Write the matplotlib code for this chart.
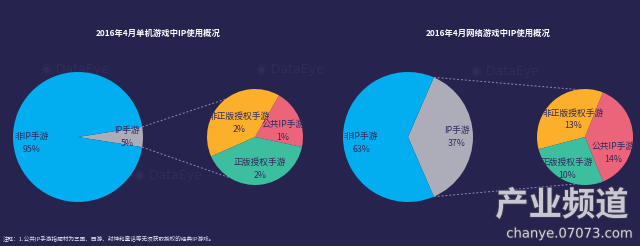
import numpy as np
import matplotlib
matplotlib.use("Agg")
import matplotlib.pyplot as plt
import matplotlib.patheffects as pe

plt.rcParams['font.family'] = ['Noto Sans CJK SC', 'DejaVu Sans']

# ---------------- data ----------------
titles = ["2016年4月单机游戏中IP使用概况", "2016年4月网络游戏中IP使用概况"]
main_labels = ["IP手游", "非IP手游"]
single_main = [5, 95]
online_main = [37, 63]
sub_labels = ["公共IP手游", "非正版授权手游", "正版授权手游"]
single_sub = [1, 2, 2]
online_sub = [14, 13, 10]
note = "注释：1.公共IP手游指题材为三国、西游、封神和童话等无须获取授权的经典IP游戏。"

BG = "#27234f"
C_BLUE = "#02aeef"
C_GRAY = "#adacb9"
C_PINK = "#ec6479"
C_ORANGE = "#fbaf2a"
C_GREEN = "#3dbf9f"
TXT = "#302a5e"

W, H = 640, 246
fig = plt.figure(figsize=(6.4, 2.46), dpi=100, facecolor=BG)
ax = fig.add_axes([0, 0, 1, 1])
ax.set_facecolor(BG)

def Y(y):
    return H - y

# faint watermarks
for (wx, wy) in [(75, 70), (290, 70), (505, 72), (168, 176), (392, 176)]:
    ax.text(wx, Y(wy), "◉ DataEye", color="#302c5b", fontsize=9, ha="center",
            va="center", family=["DejaVu Sans"], zorder=0)

def draw_group(cx_big, cx_small, main_vals, sub_vals, sub_start, top_ang, bot_ang):
    r_big, r_small, cy = 65, 48, Y(137)
    ip_frac = main_vals[0] / sum(main_vals)
    start = -ip_frac * 180
    wb, _ = ax.pie(main_vals, colors=[C_GRAY, C_BLUE], startangle=start,
                   center=(cx_big, cy), radius=r_big, frame=True,
                   wedgeprops=dict(linewidth=0))
    ws, _ = ax.pie(sub_vals, colors=[C_PINK, C_ORANGE, C_GREEN], startangle=sub_start,
                   center=(cx_small, cy), radius=r_small, frame=True,
                   wedgeprops=dict(linewidth=0))
    ip = wb[0]
    for th, sa in [(ip.theta2, top_ang), (ip.theta1, bot_ang)]:
        x0 = cx_big + r_big * np.cos(np.radians(th))
        y0 = cy + r_big * np.sin(np.radians(th))
        x1 = cx_small + r_small * np.cos(np.radians(sa))
        y1 = cy + r_small * np.sin(np.radians(sa))
        ax.plot([x0, x1], [y0, y1], color="#8f89c4", lw=0.7, ls=(0, (2, 2)), zorder=0)
    return wb, ws

draw_group(78, 255, single_main, single_sub, -12, 128, -122)
draw_group(408, 585, online_main, online_sub, -68, 99, -68)

FS = 6.3
def lab(x, y, name, val, fs=FS):
    ax.text(x, Y(y), name, color=TXT, fontsize=fs, ha="center", va="center")
    ax.text(x, Y(y + 13), f"{val}%", color=TXT, fontsize=fs, ha="center", va="center")

# left labels
lab(32, 137, main_labels[1], single_main[1])
lab(127, 130, main_labels[0], single_main[0])
lab(239, 116, sub_labels[1], single_sub[1])
lab(283, 125, sub_labels[0], single_sub[0])
lab(260, 162, sub_labels[2], single_sub[2])
# right labels
lab(361, 137, main_labels[1], online_main[1])
lab(457, 131, main_labels[0], online_main[0])
lab(573, 113, sub_labels[1], online_sub[1])
lab(613, 146, sub_labels[0], online_sub[0])
lab(567, 162, sub_labels[2], online_sub[2])

# titles
ax.text(158, Y(33), titles[0], color="white", fontsize=6.0, fontweight="bold",
        ha="center", va="center")
ax.text(488, Y(33), titles[1], color="white", fontsize=6.0, fontweight="bold",
        ha="center", va="center")

# note
ax.text(3, Y(239), note, color="#e6e4f2", fontsize=4.05, ha="left", va="center")

# site watermark
ax.text(562, Y(206), "产业频道", color="#c9c8d2", fontsize=24, fontweight="bold",
        ha="center", va="center",
        path_effects=[pe.withStroke(linewidth=1.5, foreground="#3a3650")])
ax.text(570, Y(234), "chanye.07073.com", color="#d4d3da", fontsize=9.5,
        ha="center", va="center", family=["DejaVu Sans"],
        path_effects=[pe.withStroke(linewidth=1.2, foreground="#3a3650")])

ax.set_xlim(0, W)
ax.set_ylim(0, H)
ax.set_aspect("equal")
ax.axis("off")
fig.savefig("out.png", dpi=100, facecolor=BG)
